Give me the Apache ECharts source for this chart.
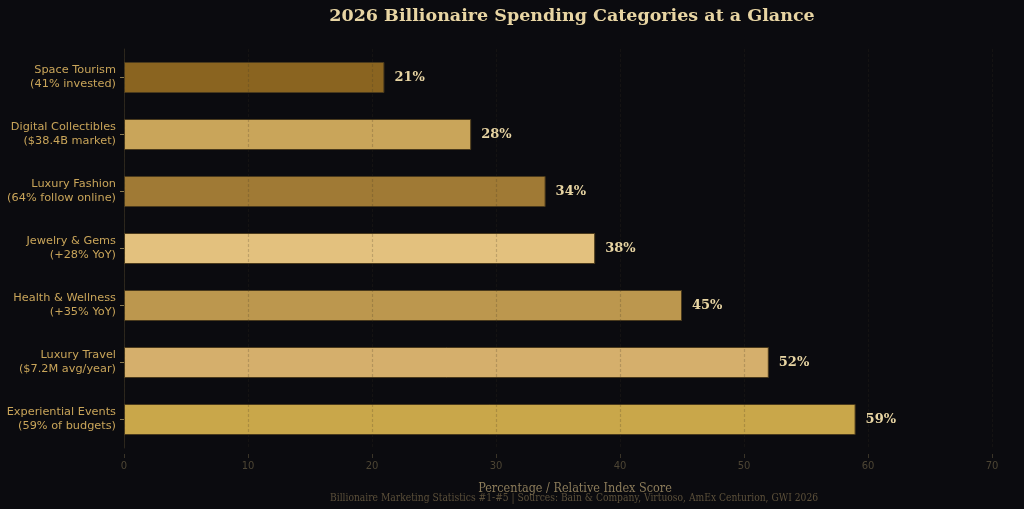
<!DOCTYPE html>
<html>
<head>
<meta charset="utf-8">
<script src="https://cdn.jsdelivr.net/npm/echarts@6/dist/echarts.min.js"></script>
<style>
  html, body { margin: 0; padding: 0; background: #0b0b0f; }
  #chart { width: 1024px; height: 509px; }
</style>
</head>
<body>
<div id="chart"></div>
<script>
// categories, top to bottom
const categories = [
  "Space Tourism\n(41% invested)",
  "Digital Collectibles\n($38.4B market)",
  "Luxury Fashion\n(64% follow online)",
  "Jewelry & Gems\n(+28% YoY)",
  "Health & Wellness\n(+35% YoY)",
  "Luxury Travel\n($7.2M avg/year)",
  "Experiential Events\n(59% of budgets)"
];
const values = [21, 28, 34, 38, 45, 52, 59];
const barColors = ["#8a6420", "#c9a55a", "#a07a35", "#e3c17e", "#bc974e", "#d5af6c", "#c9a74a"];
const xTicks = [0, 10, 20, 30, 40, 50, 60, 70];

const chart = echarts.init(document.getElementById("chart"));

const option = {
  backgroundColor: "#0b0b0f",
  animation: false,
  title: [
    {
      text: "2026 Billionaire Spending Categories at a Glance",
      left: 567,
      top: 2,
      textAlign: "center",
      textStyle: { fontFamily: "DejaVu Serif", fontWeight: "bold", fontSize: 17.5, color: "#e8d5a3" }
    },
    {
      // x axis title
      text: "Percentage / Relative Index Score",
      left: 570,
      top: 477,
      textAlign: "center",
      textStyle: { fontFamily: "DejaVu Serif Condensed", fontWeight: "normal", fontSize: 12.5, color: "#8c7c5a" }
    },
    {
      text: "Billionaire Marketing Statistics #1-#5 | Sources: Bain & Company, Virtuoso, AmEx Centurion, GWI 2026",
      left: 569,
      top: 488,
      textAlign: "center",
      textStyle: { fontFamily: "DejaVu Serif Condensed", fontWeight: "normal", fontSize: 10.2, color: "#5c503a" }
    }
  ],
  grid: { left: 124, right: 32, top: 49, bottom: 61 },
  xAxis: {
    type: "value",
    min: 0,
    max: 70,
    interval: 10,
    z: 5,
    offset: 6,
    axisLine: { show: false },
    axisTick: { show: true, length: 4, lineStyle: { color: "#3a3428" } },
    axisLabel: {
      margin: 7,
      fontFamily: "DejaVu Sans",
      fontSize: 10,
      color: "#4d4534",
      formatter: v => (xTicks.includes(v) ? String(v) : "")
    },
    splitLine: {
      show: true,
      lineStyle: { color: "rgba(60, 50, 35, 0.22)", type: [3, 2], width: 1.2 }
    }
  },
  yAxis: {
    type: "category",
    data: categories,
    inverse: true,
    axisLine: { show: true, lineStyle: { color: "#2a251c" } },
    axisTick: { show: true, alignWithLabel: true, length: 4, lineStyle: { color: "#8a7a50" } },
    axisLabel: {
      margin: 8,
      fontFamily: "DejaVu Sans",
      fontSize: 11.3,
      lineHeight: 14,
      color: "#c9a55a",
      align: "right"
    }
  },
  series: [
    {
      type: "bar",
      barWidth: 31,
      data: values.map((v, i) => ({
        value: v,
        itemStyle: { color: barColors[i], borderColor: "#4a3a1c", borderWidth: 1 }
      })),
      label: {
        show: true,
        position: "right",
        distance: 10,
        formatter: "{c}%",
        fontFamily: "DejaVu Serif",
        fontWeight: "bold",
        fontSize: 13,
        color: "#e8d5a3"
      }
    }
  ]
};

chart.setOption(option);
</script>
</body>
</html>
